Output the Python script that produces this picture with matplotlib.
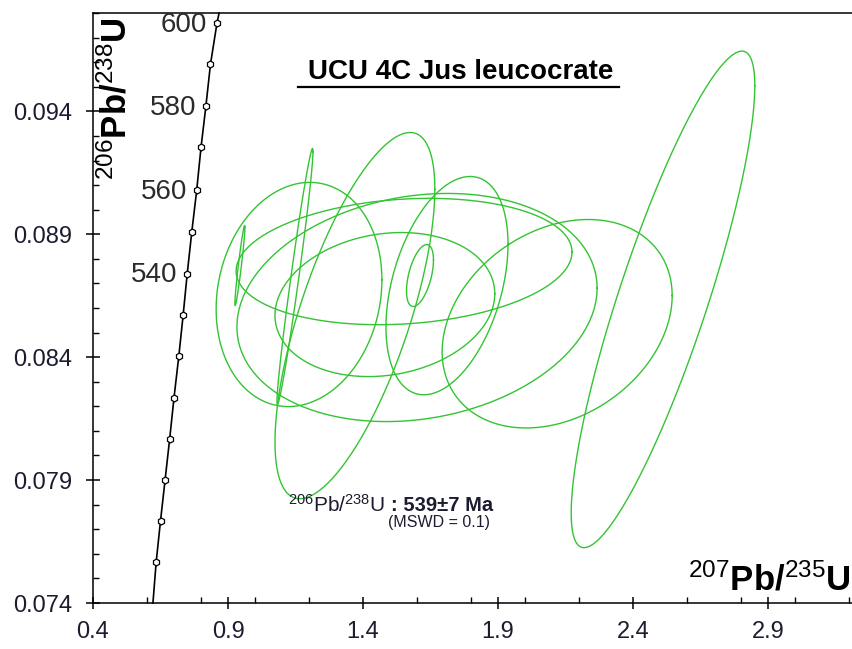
import numpy as np
import matplotlib
matplotlib.use("Agg")
import matplotlib.pyplot as plt
from matplotlib.lines import Line2D
from matplotlib.ticker import MultipleLocator, FixedLocator

plt.rcParams['font.family'] = ['Liberation Sans', 'DejaVu Sans']
plt.rcParams['mathtext.fontset'] = 'custom'
plt.rcParams['mathtext.rm'] = 'Liberation Sans'
plt.rcParams['mathtext.bf'] = 'Liberation Sans:bold'
plt.rcParams['mathtext.default'] = 'rm'

# concordia ticks (Ma) and their positions
CONC_AGES = [600, 590, 580, 570, 560, 550, 540, 530, 520, 510, 500, 490, 480, 470]
CONC_X = [0.859, 0.835, 0.818, 0.800, 0.784, 0.766, 0.749, 0.734, 0.718, 0.700,
          0.684, 0.667, 0.650, 0.634]
CONC_Y = [0.09758, 0.09591, 0.09420, 0.09253, 0.09078, 0.08911, 0.08740, 0.08573,
          0.08406, 0.08235, 0.08068, 0.07901, 0.07734, 0.07567]
# curve ends at the frame
CONC_END_X = [0.867, 0.622]
CONC_END_Y = [0.0980, 0.0740]
LABELED_AGES = [600, 580, 560, 540]

# error ellipses: centre, half-width, half-height, error correlation
ELL_X = [2.511, 1.611, 0.944, 1.148, 1.163, 2.119, 1.600, 1.552, 1.370, 1.711, 1.481]
ELL_Y = [0.08635, 0.08732, 0.08773, 0.08728, 0.08655, 0.08536, 0.08602, 0.08789,
         0.08569, 0.08691, 0.08614]
ELL_HX = [0.340, 0.050, 0.0185, 0.0667, 0.307, 0.426, 0.667, 0.622, 0.296, 0.226, 0.407]
ELL_HY = [0.01010, 0.00126, 0.00163, 0.00521, 0.00456, 0.00424, 0.00464, 0.00257,
          0.00745, 0.00444, 0.00293]
ELL_RHO = [0.86, 0.5, 0.95, 0.975, 0.13, 0.27, 0.17, 0.15, 0.69, 0.38, 0.15]

TITLE = "UCU 4C Jus leucocrate"
AGE_RESULT = "539\u00b17 Ma"
MSWD = 0.1

GREEN = '#33c433'
TXT = '#1c1c30'

fig = plt.figure(figsize=(8.52, 6.49), dpi=100)
ax = fig.add_axes([93 / 852, 46 / 649, 759 / 852, 590 / 649])
ax.set_xlim(0.4, 3.211)
ax.set_ylim(0.074, 0.098)

# ellipses
t = np.linspace(0, 2 * np.pi, 300)
for cx, cy, hx, hy, r in zip(ELL_X, ELL_Y, ELL_HX, ELL_HY, ELL_RHO):
    ex = cx + hx * np.cos(t)
    ey = cy + hy * (r * np.cos(t) + np.sqrt(1 - r ** 2) * np.sin(t))
    ax.plot(ex, ey, color=GREEN, lw=1.0, zorder=2)

# concordia
line_x = [CONC_END_X[0]] + CONC_X + [CONC_END_X[1]]
line_y = [CONC_END_Y[0]] + CONC_Y + [CONC_END_Y[1]]
ax.plot(line_x, line_y, color='black', lw=1.2, zorder=3, clip_on=False)
ax.plot(CONC_X, CONC_Y, ls='none', marker='h', ms=5, mfc='white', mec='black',
        mew=0.9, zorder=4)
for age, x, y in zip(CONC_AGES, CONC_X, CONC_Y):
    if age in LABELED_AGES:
        ax.annotate(str(age), (x, y), xytext=(-7, -1), textcoords='offset points',
                    ha='right', va='center', fontsize=20, color='#2b2b2b')

# axes styling
ax.spines['right'].set_visible(False)
for s in ['left', 'bottom', 'top']:
    ax.spines[s].set_linewidth(1.1)
ax.xaxis.set_major_locator(FixedLocator([0.4, 0.9, 1.4, 1.9, 2.4, 2.9]))
ax.xaxis.set_minor_locator(MultipleLocator(0.2))
ax.yaxis.set_major_locator(FixedLocator([0.074, 0.079, 0.084, 0.089, 0.094]))
ax.yaxis.set_minor_locator(MultipleLocator(0.001))
ax.set_xticklabels(['0.4', '0.9', '1.4', '1.9', '2.4', '2.9'])
ax.set_yticklabels(['0.074', '0.079', '0.084', '0.089', '0.094'])
ax.tick_params(which='major', direction='inout', width=1.1, labelsize=17,
               labelcolor=TXT)
ax.tick_params(axis='x', which='major', length=8, pad=9)
ax.tick_params(axis='y', which='major', length=10, pad=10)
ax.tick_params(which='minor', direction='in', length=4.5, width=1.0)
ax.tick_params(top=False, right=False, which='both')

# axis titles inside the frame
ax.text(0.030, 0.993, r'$^{206}\mathbf{Pb/}^{238}\mathbf{U}$', transform=ax.transAxes,
        rotation=90, ha='center', va='top', fontsize=25, color='black')
ax.text(0.998, 0.022, r'$^{207}\mathbf{Pb/}^{235}\mathbf{U}$', transform=ax.transAxes,
        ha='right', va='baseline', fontsize=25, color='black')

# sample title, underlined
title = ax.text(0.485, (603 - 79) / 590, TITLE, transform=ax.transAxes,
                ha='center', va='baseline', fontsize=20, fontweight='bold',
                color='black')

# result
ax.text(0.257, 0.154, r'$^{206}$Pb/$^{238}$U', transform=ax.transAxes,
        ha='left', va='baseline', fontsize=15, color=TXT)
ax.text(0.392, 0.156, ': ' + AGE_RESULT, transform=ax.transAxes,
        ha='left', va='baseline', fontsize=14.5, fontweight='bold', color=TXT)
ax.text(0.389, 0.136, f'(MSWD = {MSWD})', transform=ax.transAxes,
        ha='left', va='center', fontsize=11.5, color=TXT)

fig.canvas.draw()
bb = title.get_window_extent()
base_y = ax.transAxes.transform((0, (603 - 79) / 590))[1]
inv = fig.transFigure.inverted()
p0 = inv.transform((bb.x0 - 10, base_y - 8))
p1 = inv.transform((bb.x1 + 5, base_y - 8))
fig.add_artist(Line2D([p0[0], p1[0]], [p0[1], p1[1]], color='black', lw=1.6))

fig.savefig('out.png', dpi=100)
